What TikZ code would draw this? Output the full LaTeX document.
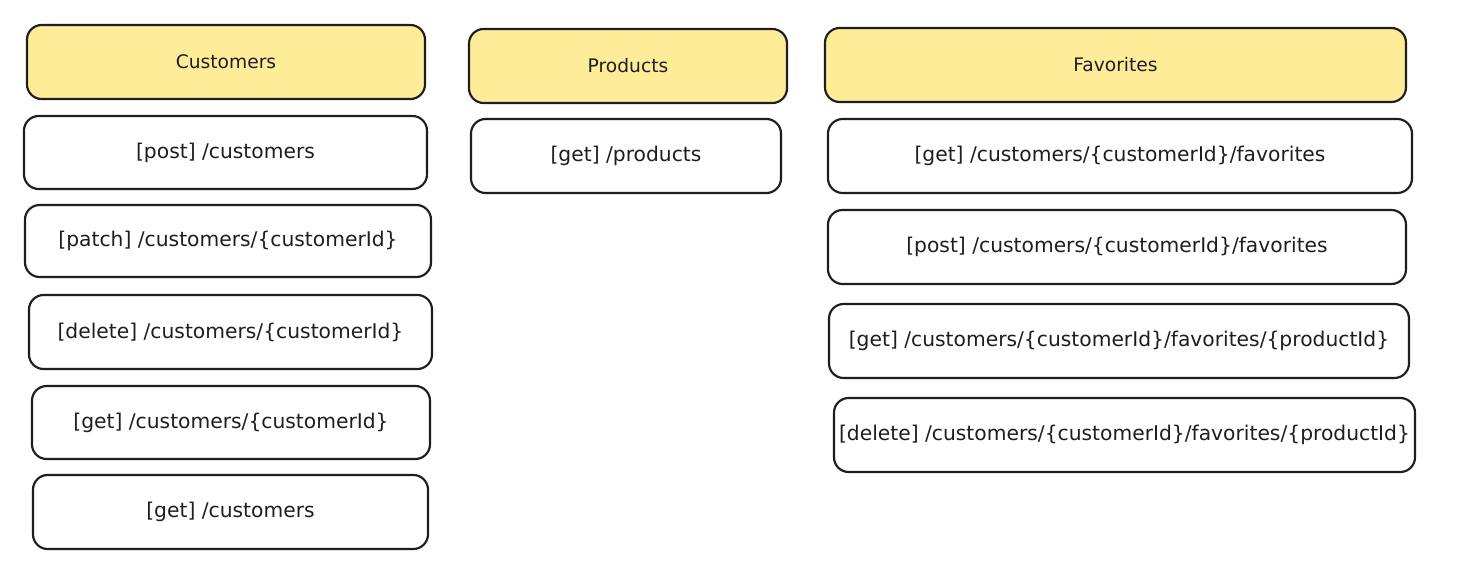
\documentclass[tikz,border=0pt]{standalone}
\usepackage{fontspec}
\setmainfont{DejaVu Sans}
\definecolor{ink}{HTML}{1E1E1E}
\definecolor{hdr}{HTML}{FFEC99}
\tikzset{
  base/.style={draw=ink, line width=1.6pt, rounded corners=11pt, text=ink, inner sep=0pt, align=center},
  ep/.style={base, fill=white, font=\fontsize{15.2}{18}\selectfont},
  hd/.style={base, fill=hdr, font=\fontsize{14}{17}\selectfont},
}
\newcommand\mybox[7]{%
  \node[#6, minimum width={(#4-#2)*0.75pt}, minimum height={(#5-#3)*0.75pt}]
    (#1) at ({(#2+#4)/2},{(#3+#5)/2}) {#7};}
\begin{document}
\begin{tikzpicture}[x=0.75pt,y=-0.75pt]
\path[use as bounding box, fill=white] (0,0) rectangle (1465,567);
% Customers
\mybox{cust}{27}{25}{425}{99}{hd}{Customers}
\mybox{c1}{24}{116}{427}{189}{ep}{[post] /customers}
\mybox{c2}{25}{205}{431}{277}{ep}{[patch] /customers/\{customerId\}}
\mybox{c3}{29}{295}{432}{369}{ep}{[delete] /customers/\{customerId\}}
\mybox{c4}{32}{386}{430}{459}{ep}{[get] /customers/\{customerId\}}
\mybox{c5}{33}{475}{428}{549}{ep}{[get] /customers}
% Products
\mybox{prod}{469}{29}{787}{103}{hd}{Products}
\mybox{p1}{471}{119}{781}{193}{ep}{[get] /products}
% Favorites
\mybox{fav}{825}{28}{1406}{102}{hd}{Favorites}
\mybox{f1}{828}{119}{1412}{193}{ep}{[get] /customers/\{customerId\}/favorites}
\mybox{f2}{828}{210}{1406}{284}{ep}{[post] /customers/\{customerId\}/favorites}
\mybox{f3}{829}{304}{1409}{378}{ep}{[get] /customers/\{customerId\}/favorites/\{productId\}}
\mybox{f4}{834}{398}{1415}{472}{ep}{[delete] /customers/\{customerId\}/favorites/\{productId\}}
\end{tikzpicture}
\end{document}
